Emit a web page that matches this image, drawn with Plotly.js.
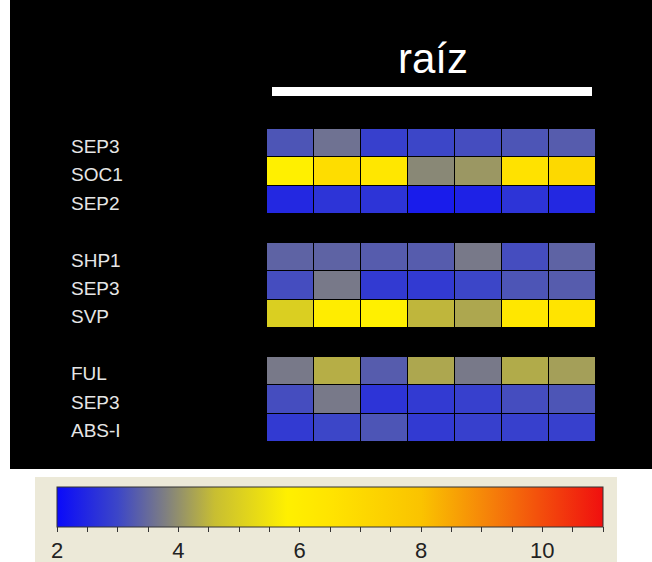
<!DOCTYPE html>
<html>
<head>
<meta charset="utf-8">
<script src="https://cdn.plot.ly/plotly-3.0.1.min.js"></script>
<style>html,body{margin:0;padding:0;background:#fff;}#chart{width:652px;height:562px;}</style>
</head>
<body>
<div id="chart"></div>
<script>
// ---- data ----
const samples = ['1', '2', '3', '4', '5', '6', '7'];
const geneLabels = ['SEP3', 'SOC1', 'SEP2', '', 'SHP1', 'SEP3', 'SVP', '', 'FUL', 'SEP3', 'ABS-I'];
const sep3_g1 = [3.2, 3.6, 2.9, 3.0, 3.1, 3.2, 3.3];
const soc1    = [5.8, 6.8, 6.3, 3.9, 4.1, 6.6, 7.0];
const sep2    = [2.5, 2.7, 2.7, 2.3, 2.4, 2.7, 2.5];
const shp1    = [3.4, 3.4, 3.3, 3.3, 3.7, 3.1, 3.4];
const sep3_g2 = [3.1, 3.7, 2.8, 2.8, 3.0, 3.2, 3.3];
const svp     = [5.0, 6.0, 5.8, 4.5, 4.3, 6.3, 6.5];
const ful     = [3.7, 4.4, 3.3, 4.3, 3.7, 4.35, 4.2];
const sep3_g3 = [3.1, 3.7, 2.7, 2.8, 2.9, 3.1, 3.2];
const absI    = [2.8, 3.0, 3.2, 2.8, 2.9, 2.9, 2.9];
const gapRow  = [null, null, null, null, null, null, null];
const zRows = [sep3_g1, soc1, sep2, gapRow, shp1, sep3_g2, svp, gapRow, ful, sep3_g3, absI];
const zMin = 2, zMax = 11;
const majorTicks = [2, 4, 6, 8, 10];
const titleText = 'raíz';

// ---- helpers (pixel -> paper) ----
const W = 652, H = 562;
const L = 267, R = 596, T = 129, B = 442;
const px = v => (v - L) / (R - L);
const py = v => (B - v) / (B - T);

const tickVals = [];
for (let v = zMin; v <= zMax + 1e-9; v += 0.5) tickVals.push(v);
const tickText = tickVals.map(v => majorTicks.includes(v) ? String(v) : '');

const colorscale = [
  [0.000, 'rgb(10,10,250)'],
  [0.111, 'rgb(60,70,200)'],
  [0.200, 'rgb(128,128,128)'],
  [0.289, 'rgb(200,190,50)'],
  [0.422, 'rgb(255,240,0)'],
  [0.500, 'rgb(255,228,0)'],
  [0.667, 'rgb(250,195,0)'],
  [0.800, 'rgb(245,125,10)'],
  [1.000, 'rgb(240,15,15)']
];

const yIdx = geneLabels.map((_, i) => i);

const trace = {
  type: 'heatmap',
  z: zRows,
  x: samples.map((_, i) => i),
  y: yIdx,
  zmin: zMin, zmax: zMax,
  colorscale: colorscale,
  xgap: 1, ygap: 1,
  hoverongaps: false,
  colorbar: {
    orientation: 'h',
    x: px(330), xanchor: 'center',
    y: py(487), yanchor: 'top',
    len: 546, lenmode: 'pixels',
    thickness: 40, thicknessmode: 'pixels',
    xpad: 0, ypad: 0,
    outlinewidth: 1, outlinecolor: '#333',
    ticks: 'outside', ticklen: 5, tickwidth: 1, tickcolor: '#333',
    tickvals: tickVals, ticktext: tickText,
    tickfont: {family: 'Liberation Sans, Arial, sans-serif', size: 22, color: '#222'},
    bgcolor: 'rgba(0,0,0,0)'
  }
};

const annotations = geneLabels.map((g, i) => ({
  text: g, xref: 'paper', yref: 'y', x: px(69), y: i,
  xanchor: 'left', yanchor: 'middle', yshift: -3, showarrow: false,
  font: {family: 'Liberation Sans, Arial, sans-serif', size: 19, color: '#e6e6e6'}
})).filter(a => a.text !== '');

const shapes = [
  {type: 'rect', xref: 'paper', yref: 'paper', x0: px(10), x1: px(W + 5), y0: py(-5), y1: py(469),
   fillcolor: '#000', line: {width: 0}, layer: 'below'},
  {type: 'rect', xref: 'paper', yref: 'paper', x0: px(35), x1: px(617), y0: py(477), y1: py(H + 5),
   fillcolor: '#ece9d8', line: {width: 0}, layer: 'below'},
  {type: 'rect', xref: 'paper', yref: 'paper', x0: px(272), x1: px(592), y0: py(87), y1: py(96),
   fillcolor: '#fff', line: {width: 0}, layer: 'above'}
];

const layout = {
  width: W, height: H,
  margin: {l: L, r: W - R, t: T, b: H - B, pad: 0, autoexpand: false},
  paper_bgcolor: '#ffffff',
  plot_bgcolor: '#000000',
  title: {
    text: titleText, xref: 'paper', x: px(433), xanchor: 'center',
    yref: 'container', y: 1 - 58 / H, yanchor: 'middle',
    font: {family: 'Liberation Sans, Arial, sans-serif', size: 42, color: '#ffffff'}
  },
  xaxis: {visible: false, range: [-0.5, samples.length - 0.5], fixedrange: true},
  yaxis: {visible: false, range: [geneLabels.length - 0.5, -0.5], fixedrange: true},
  annotations: annotations,
  shapes: shapes,
  showlegend: false
};

Plotly.newPlot('chart', [trace], layout, {displayModeBar: false, staticPlot: true});
</script>
</body>
</html>
